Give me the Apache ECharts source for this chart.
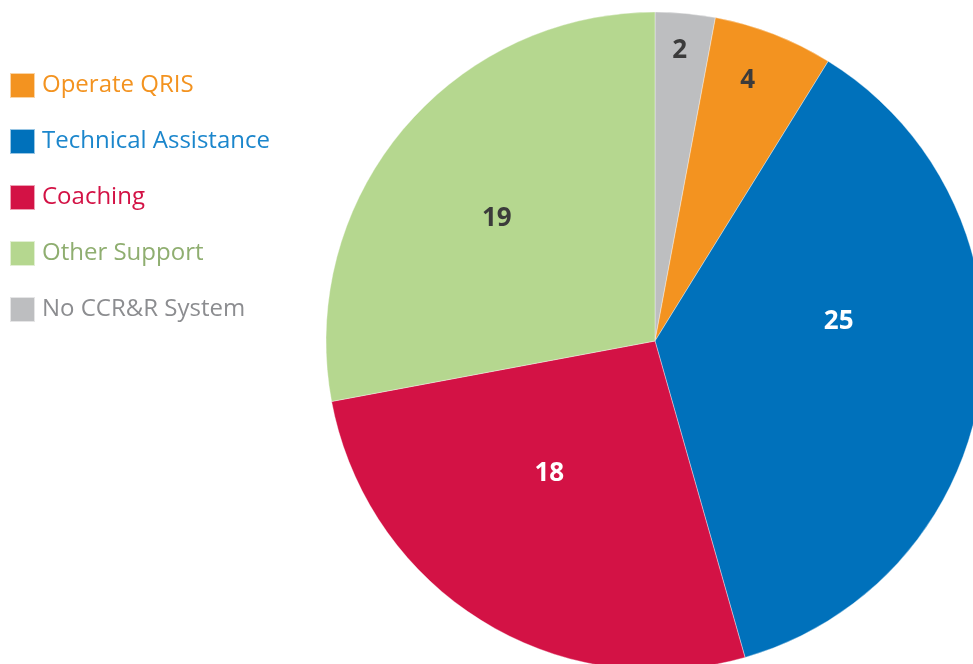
<!DOCTYPE html>
<html>
<head>
<meta charset="utf-8">
<script src="https://cdn.jsdelivr.net/npm/echarts@6/dist/echarts.min.js"></script>
<style>
  html, body { margin: 0; padding: 0; background: #fff; }
  #piechart { width: 973px; height: 664px; }
</style>
</head>
<body>
<div id="piechart"></div>
<script>
// slices, clockwise from 12 o'clock
var names = ['No CCR&R System', 'Operate QRIS', 'Technical Assistance', 'Coaching', 'Other Support'];
var values = [2, 4, 25, 18, 19];
var colors = ['#BDBEC0', '#F39320', '#0071BB', '#D31245', '#B5D78F'];
var textColors = ['#8C8D90', '#F39320', '#1B86CC', '#D31245', '#8FAE70'];
var labelColors = ['#3B3B3B', '#3B3B3B', '#FFFFFF', '#FFFFFF', '#3B3B3B'];
var legendOrder = ['Operate QRIS', 'Technical Assistance', 'Coaching', 'Other Support', 'No CCR&R System'];
var smallSlices = ['No CCR&R System', 'Operate QRIS'];
// nudges the value labels off the slice middle, like the original
var labelNudge = [[-2, -2], [-12, 10], [-2, -45], [-7, -27], [-14, -3]];

var myChart = echarts.init(document.getElementById('piechart'));

function labelData(small) {
    return names.map(function (n, i) {
        var show = smallSlices.indexOf(n) >= 0 ? small : !small;
        return {
            name: n,
            value: values[i],
            itemStyle: { color: 'rgba(0,0,0,0)' },
            label: { show: show, color: labelColors[i] }
        };
    });
}

function nudge(params) {
    var d = labelNudge[params.dataIndex];
    return { dx: d[0], dy: d[1] };
}

var labelStyle = {
    position: 'inside',
    formatter: '{c}',
    fontFamily: 'Open Sans',
    fontWeight: 'bold',
    fontSize: 26
};

var option = {
    animation: false,
    legend: {
        orient: 'vertical',
        left: 4,
        top: 67,
        icon: 'rect',
        itemWidth: 25,
        itemHeight: 25,
        itemGap: 29,
        selectedMode: false,
        data: legendOrder.map(function (n) {
            return { name: n, textStyle: { color: textColors[names.indexOf(n)] } };
        }),
        textStyle: {
            fontFamily: 'Open Sans',
            fontSize: 24,
            padding: [0, 0, 0, 2]
        }
    },
    series: [{
        type: 'pie',
        center: [655, 341],
        radius: [0, 329],
        startAngle: 90,
        silent: true,
        label: { show: false },
        labelLine: { show: false },
        itemStyle: { borderColor: 'rgba(255,255,255,0.6)', borderWidth: 0.6 },
        data: names.map(function (n, i) {
            return { name: n, value: values[i], itemStyle: { color: colors[i] } };
        })
    }, {
        // labels for the big slices
        type: 'pie',
        center: [655, 341],
        radius: [40, 329],
        startAngle: 90,
        silent: true,
        label: labelStyle,
        labelLine: { show: false },
        labelLayout: nudge,
        data: labelData(false)
    }, {
        // labels for the two small slices, near the rim
        type: 'pie',
        center: [655, 341],
        radius: [245, 329],
        startAngle: 90,
        silent: true,
        label: labelStyle,
        labelLine: { show: false },
        labelLayout: nudge,
        data: labelData(true)
    }]
};
myChart.setOption(option);
</script>
</body>
</html>
